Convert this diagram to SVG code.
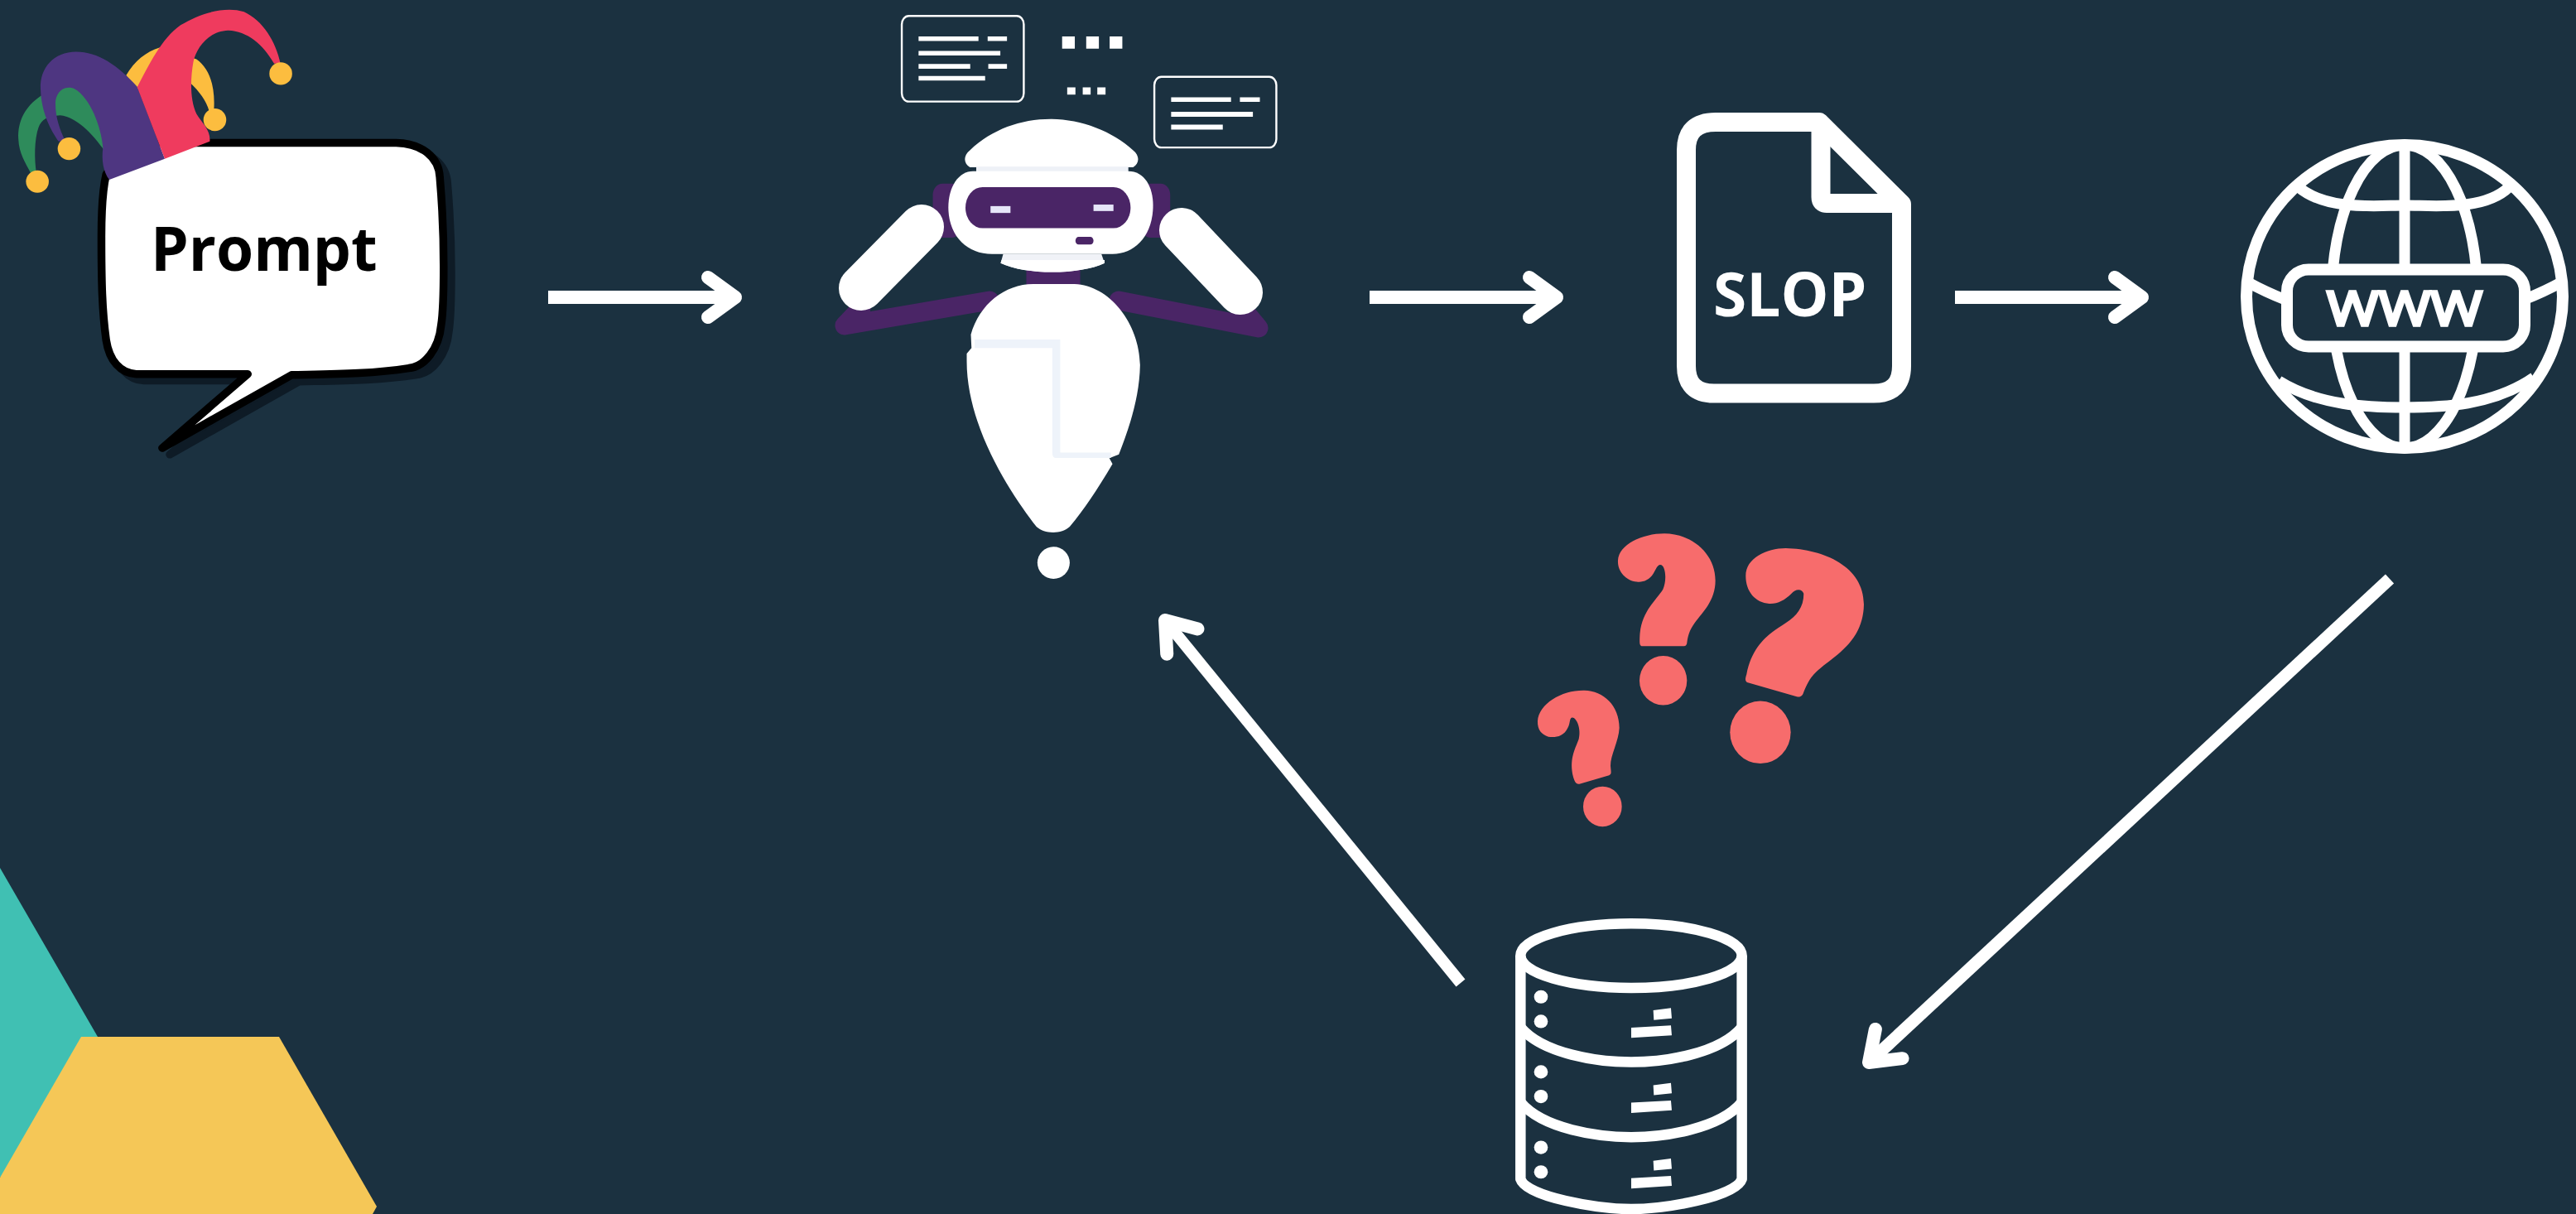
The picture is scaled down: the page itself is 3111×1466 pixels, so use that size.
<svg xmlns="http://www.w3.org/2000/svg" width="3111" height="1466" viewBox="0 0 3111 1466">
<defs>
<style>
.ns{vector-effect:non-scaling-stroke}
.w{fill:#fff}
.o{fill:none;stroke:#fff;stroke-linejoin:round;vector-effect:non-scaling-stroke}
.pur{fill:#4a2566}
.q{fill:#f76c6c}
.link{stroke:#fff;fill:none}
text{font-family:"Open Sans","Liberation Sans",sans-serif}
</style>
<marker id="head" markerUnits="userSpaceOnUse" markerWidth="70" markerHeight="80" refX="50" refY="40" orient="auto" viewBox="0 0 70 80">
<path d="M17,16 L50,40 L17,64" fill="none" stroke="#fff" stroke-width="16" stroke-linecap="round" stroke-linejoin="round"/>
</marker>
<g id="rack">
<path class="o" stroke-width="12.5" d="M169,1150 C250,1210 450,1228 570,1228 C690,1228 890,1210 971,1150"/>
<ellipse class="w" cx="243" cy="1082" rx="25" ry="15"/>
<ellipse class="w" cx="243" cy="1137" rx="25" ry="15"/>
<path class="w" d="M650,1112 L714,1107 L717,1130 L652,1134Z M570,1151 L714,1146 L717,1168 L570,1174Z"/>
</g>
</defs>
<rect width="3111" height="1466" fill="#1b3140"/>
<g id="decor">
<polygon points="0,1048 118,1252 118,1300 0,1422" fill="#40c0b3"/>
<polygon points="98,1252 337,1252 455,1457 450,1466 0,1466 0,1422" fill="#f5c757"/>
</g>
<g id="prompt">
<g transform="scale(.3827,.3571)">
<path class="ns" fill="#0e1b26" stroke="#0e1b26" stroke-width="9.5" stroke-linejoin="round" transform="translate(24,22)" d="M400,483 L1250,483 C1330,485 1385,530 1388,600 C1396,700 1400,800 1400,900 C1400,1000 1398,1060 1392,1100 C1385,1180 1340,1240 1290,1245 C1170,1265 1050,1265 920,1268 L512,1515 L782,1265 L430,1265 C380,1262 345,1220 335,1150 C322,1050 320,950 320,800 C320,720 322,650 335,590 Z"/>
<path class="ns" fill="#fff" stroke="#000" stroke-width="9.5" stroke-linejoin="round" d="M400,483 L1250,483 C1330,485 1385,530 1388,600 C1396,700 1400,800 1400,900 C1400,1000 1398,1060 1392,1100 C1385,1180 1340,1240 1290,1245 C1170,1265 1050,1265 920,1268 L512,1515 L782,1265 L430,1265 C380,1262 345,1220 335,1150 C322,1050 320,950 320,800 C320,720 322,650 335,590 Z"/>
<g id="jester-hat">
<path fill="#fcbd3f" d="M398,255 C425,205 460,175 505,160 L620,200 C660,230 680,290 675,372 L660,375 C650,340 630,310 600,280 L430,300Z"/>
<path fill="#2e8b5b" d="M128,325 C80,360 55,410 58,470 C60,520 80,550 97,585 L115,585 C108,540 108,470 122,430 C130,405 150,392 190,390 C240,395 290,450 330,510 L300,300 L180,290Z"/>
<path fill="#4e3681" d="M345,608 C325,580 320,540 325,500 C320,430 285,330 235,300 C195,285 175,320 175,350 C175,400 190,440 205,475 L185,478 C160,440 130,380 128,300 C125,230 170,175 240,175 C310,175 370,220 433,293 L520,537Z"/>
<path fill="#ef3b5e" d="M433,295 C470,220 510,130 570,85 C630,45 710,20 770,40 C830,70 870,140 885,215 L865,215 C830,150 780,105 720,103 C660,105 620,160 610,210 C600,270 600,340 620,385 C640,420 665,440 662,478 L520,537Z"/>
<ellipse cx="118" cy="614" rx="36" ry="38" fill="#fcbd3f"/>
<ellipse cx="218" cy="503" rx="36" ry="38" fill="#fcbd3f"/>
<ellipse cx="678" cy="405" rx="36" ry="38" fill="#fcbd3f"/>
<ellipse cx="886" cy="249" rx="36" ry="38" fill="#fcbd3f"/>
</g>
</g>
<text x="182" y="327" font-size="73" font-weight="700" fill="#000">Prompt</text>
</g>
<g id="robot">
<path fill="none" stroke="#4a2566" stroke-width="23" stroke-linejoin="round" stroke-linecap="round" d="M1195,363 L1020,393 L1040,372"/>
<path fill="none" stroke="#4a2566" stroke-width="23" stroke-linejoin="round" stroke-linecap="round" d="M1351,363 L1520,396 L1500,372"/>
<g transform="translate(980,0) scale(.3827,.4592)">
<rect class="o" stroke-width="2.4" x="285" y="42" width="385" height="225" rx="22"/>
<rect class="o" stroke-width="2.4" x="1082" y="202" width="385" height="186" rx="22"/>
<path class="w" d="M338,96H527V108H338Z M556,96H617V108H556Z M338,134H596V146H338Z M338,168H501V181H338Z M558,168H617V181H558Z M338,200H548V212H338Z M1135,256H1324V268H1135Z M1352,256H1415V268H1352Z M1135,294H1393V307H1135Z M1135,328H1298V341H1135Z"/>
<path class="w" d="M791,96h40v32h-40Z M867,96h40v32h-40Z M941,96h40v32h-40Z M807,230h26v19h-26Z M856,230h25v19h-25Z M902,230h26v19h-26Z"/>
<rect class="pur" x="383" y="483" width="90" height="142" rx="30"/>
<rect class="pur" x="1040" y="483" width="92" height="142" rx="30"/>
<rect class="pur" x="678" y="700" width="170" height="60"/>
<path class="w" d="M500,440 C480,430 478,410 500,395 C570,340 660,313 755,313 C850,313 950,345 1015,395 C1037,410 1035,430 1015,440Z"/>
<rect x="520" y="438" width="480" height="14" fill="#eef1f7"/>
<path class="w" d="M510,450 L1000,450 C1050,450 1078,490 1078,540 C1078,620 1020,668 950,668 L570,668 C490,668 432,620 432,545 C432,490 465,450 510,450Z"/>
<path fill="#f0f2f7" d="M605,668 L915,668 L925,692 C850,722 680,725 597,692Z"/>
<path class="w" d="M600,684 L925,684 L925,692 C850,722 680,725 597,692Z"/>
<rect class="pur" x="486" y="492" width="521" height="108" rx="54"/>
<rect x="565" y="542" width="63" height="18" fill="#e6e6f8"/>
<rect x="890" y="538" width="63" height="17" fill="#e6e6f8"/>
<rect class="pur" x="833" y="623" width="57" height="20" rx="10"/>
<path class="w" d="M700,747 L830,747 C940,750 1035,850 1037,960 C1035,1050 1000,1130 970,1195 L940,1205 L950,1220 C900,1290 860,1340 815,1385 C790,1405 735,1405 710,1385 C640,1310 490,1130 490,950 L490,930 L505,915 L503,880 C530,800 610,747 700,747Z"/>
<path fill="#eef3fa" d="M515,893 H785 V1190 H945 V1204 H770 Q760,1204 760,1190 V915 H515Z"/>
<ellipse class="w" cx="764" cy="1480" rx="51" ry="42"/>
</g>
<g stroke="#fff" stroke-width="54" stroke-linecap="round">
<line x1="1040" y1="348" x2="1113" y2="274"/>
<line x1="1427" y1="278" x2="1498" y2="353"/>
</g>
</g>
<g id="slop">
<path class="o" stroke-width="23" d="M2072,147.5 H2197 L2296.5,246.5 V442 Q2296.5,475 2263,475 H2070 Q2036.5,475 2036.5,442 V181 Q2036.5,147.5 2072,147.5Z"/>
<path class="o" stroke-width="23" d="M2199,147 V238 Q2199,245.5 2206,245.5 H2296"/>
<text x="2069" y="382" font-size="73" font-weight="700" fill="#fff">SLOP</text>
</g>
<g id="www">
<ellipse class="o" stroke-width="14" cx="2904" cy="358" rx="191" ry="183"/>
<ellipse class="o" stroke-width="13" cx="2904" cy="358" rx="88" ry="183"/>
<line class="o" stroke-width="13" x1="2904" y1="175" x2="2904" y2="541"/>
<path class="o" stroke-width="13" d="M2776,226 C2810,255 2870,248 2904,248 C2940,248 3000,255 3030,226"/>
<path class="o" stroke-width="13" d="M2752,460 C2800,490 2860,492 2904,492 C2950,492 3010,490 3060,456"/>
<path class="o" stroke-width="13" d="M2715,341 Q2735,352 2760,362 M3093,341 Q3073,352 3048,362"/>
<rect x="2762" y="325.5" width="287" height="93" rx="26" fill="#1b3140" stroke="#fff" stroke-width="14"/>
<text x="2810" y="393" font-size="57" fill="#fff" stroke="#fff" stroke-width="3.5" textLength="188" lengthAdjust="spacingAndGlyphs">WWW</text>
</g>
<g id="question-marks" transform="translate(1780,620) scale(.3333,.5395)">
<path class="q" d="M985,140 C985,100 1060,78 1130,78 C1270,80 1415,120 1413,205 C1410,290 1300,320 1240,355 C1215,370 1205,385 1195,400 C1190,410 1180,412 1170,410 L990,378 C982,375 983,370 988,360 C1010,290 1080,265 1130,245 C1170,230 1195,210 1195,180 C1190,168 1165,168 1150,180 C1125,195 1100,203 1070,202 C1020,200 985,175 985,140Z"/>
<ellipse class="q" cx="1038" cy="490" rx="110" ry="70"/>
<path class="q" d="M522,105 C525,70 610,45 690,45 C790,45 875,90 875,150 C875,195 830,220 800,245 C780,262 775,275 772,290 C770,297 765,297 755,297 L610,297 C600,297 600,290 601,275 C605,220 660,195 685,170 C700,150 695,115 675,115 C665,115 660,125 650,135 C635,150 610,155 590,153 C550,150 520,130 522,105Z"/>
<ellipse class="q" cx="686" cy="374" rx="86" ry="55"/>
<path class="q" d="M231,465 C235,425 320,395 400,396 C470,397 527,430 527,480 C525,510 495,540 495,565 C497,580 500,583 490,586 L385,605 C370,608 365,600 360,590 C345,550 365,530 380,505 C390,480 370,455 355,457 C345,460 350,470 340,480 C325,500 295,502 270,500 C245,495 230,485 231,465Z"/>
<ellipse class="q" cx="466" cy="656" rx="70" ry="45"/>
</g>
<g id="database" transform="translate(1780,620) scale(.3333,.5395)">
<ellipse class="o" stroke-width="12.5" cx="570" cy="990" rx="401" ry="72"/>
<path class="o" stroke-width="12.5" d="M169,990 V1490 C190,1530 450,1557 570,1557 C690,1557 950,1530 971,1490 V990"/>
<use href="#rack"/>
<use href="#rack" y="168"/>
<g transform="translate(0,337)">
<ellipse class="w" cx="243" cy="1082" rx="25" ry="15"/>
<ellipse class="w" cx="243" cy="1137" rx="25" ry="15"/>
<path class="w" d="M650,1112 L714,1107 L717,1130 L652,1134Z M570,1151 L714,1146 L717,1168 L570,1174Z"/>
</g>
</g>
<g id="connectors">
<line class="link" stroke-width="16" x1="662" y1="359" x2="888" y2="359" marker-end="url(#head)"/>
<line class="link" stroke-width="16" x1="1654" y1="359" x2="1880" y2="359" marker-end="url(#head)"/>
<line class="link" stroke-width="16" x1="2361" y1="359" x2="2587" y2="359" marker-end="url(#head)"/>
<line class="link" stroke-width="15" x1="2886" y1="699" x2="2257" y2="1283" marker-end="url(#head)"/>
<line class="link" stroke-width="14" x1="1764" y1="1187" x2="1407" y2="749" marker-end="url(#head)"/>
</g>
</svg>
